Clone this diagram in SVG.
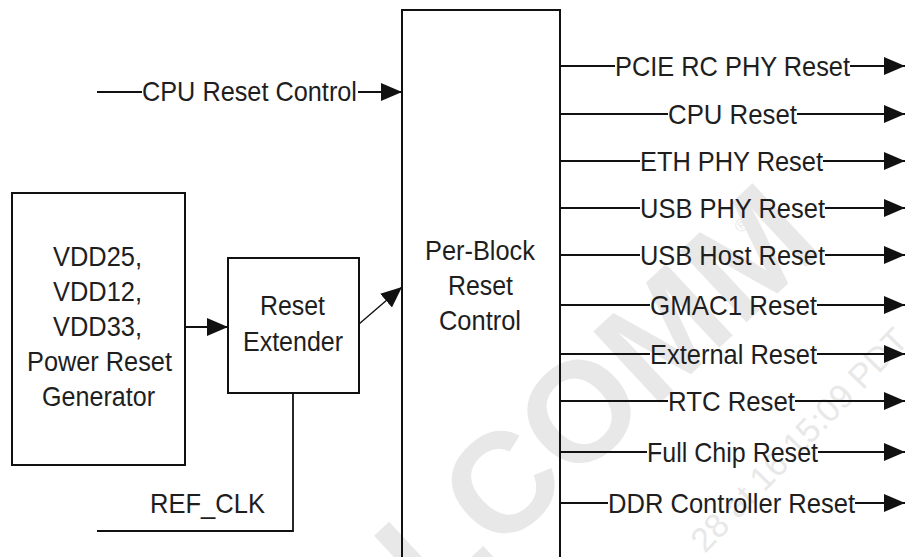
<svg xmlns="http://www.w3.org/2000/svg" width="920" height="557" viewBox="0 0 920 557">
<style>
.box{fill:none;stroke:#111;stroke-width:2}
.wire{fill:none;stroke:#111;stroke-width:1.8}
.arr{marker-end:url(#ah)}
.lbl{font-family:"Liberation Sans",Arial,sans-serif;font-size:27.5px;fill:#1e1e1e}
.wm{font-family:"Liberation Sans",Arial,sans-serif;fill:#e8e8e8}
</style>
<defs>
<marker id="ah" markerUnits="userSpaceOnUse" markerWidth="22" markerHeight="20" refX="21" refY="10" orient="auto">
<path d="M0,1 L21,10 L0,19 Z" fill="#111"/>
</marker>
</defs>
<rect width="920" height="557" fill="#fff"/>
<g id="watermark">
<text class="wm" font-weight="bold" font-size="142" transform="translate(203,829) rotate(-43)">QUALCOMM</text>
<text class="wm" font-size="18" transform="translate(741,234) rotate(-43)">®</text>
<text class="wm" font-size="34" transform="translate(705,554) rotate(-46)">28 at 16:15:09 PDT</text>
</g>
<g id="power-reset-generator">
<rect class="box" x="12" y="193" width="173" height="272"/>
<text class="lbl" x="53" y="266" textLength="89" lengthAdjust="spacingAndGlyphs">VDD25,</text>
<text class="lbl" x="53" y="301" textLength="89" lengthAdjust="spacingAndGlyphs">VDD12,</text>
<text class="lbl" x="53" y="336" textLength="89" lengthAdjust="spacingAndGlyphs">VDD33,</text>
<text class="lbl" x="27" y="371" textLength="145" lengthAdjust="spacingAndGlyphs">Power Reset</text>
<text class="lbl" x="42" y="406" textLength="113" lengthAdjust="spacingAndGlyphs">Generator</text>
</g>
<g id="reset-extender">
<rect class="box" x="228" y="258" width="131" height="135"/>
<text class="lbl" x="260" y="315" textLength="65" lengthAdjust="spacingAndGlyphs">Reset</text>
<text class="lbl" x="243" y="351" textLength="100" lengthAdjust="spacingAndGlyphs">Extender</text>
</g>
<g id="per-block-reset-control">
<rect class="box" x="402" y="10" width="158" height="570"/>
<text class="lbl" x="425" y="260" textLength="110" lengthAdjust="spacingAndGlyphs">Per-Block</text>
<text class="lbl" x="448" y="295" textLength="65" lengthAdjust="spacingAndGlyphs">Reset</text>
<text class="lbl" x="439" y="330" textLength="82" lengthAdjust="spacingAndGlyphs">Control</text>
</g>
<g id="connectors">
<line class="wire" x1="97" y1="92" x2="142" y2="92"/>
<line class="wire arr" x1="358" y1="92" x2="402" y2="92"/>
<line class="wire arr" x1="185" y1="327" x2="228" y2="327"/>
<line class="wire arr" style="stroke-width:1.4" x1="359" y1="324" x2="402" y2="287"/>
<polyline class="wire" points="97,531 293,531 293,393"/>
<line class="wire" x1="560" y1="66" x2="615" y2="66"/><line class="wire arr" x1="850" y1="66" x2="905" y2="66"/>
<line class="wire" x1="560" y1="114" x2="668" y2="114"/><line class="wire arr" x1="797" y1="114" x2="905" y2="114"/>
<line class="wire" x1="560" y1="161" x2="640" y2="161"/><line class="wire arr" x1="823" y1="161" x2="905" y2="161"/>
<line class="wire" x1="560" y1="208" x2="640" y2="208"/><line class="wire arr" x1="825" y1="208" x2="905" y2="208"/>
<line class="wire" x1="560" y1="255" x2="640" y2="255"/><line class="wire arr" x1="825" y1="255" x2="905" y2="255"/>
<line class="wire" x1="560" y1="305" x2="650" y2="305"/><line class="wire arr" x1="817" y1="305" x2="905" y2="305"/>
<line class="wire" x1="560" y1="354" x2="650" y2="354"/><line class="wire arr" x1="817" y1="354" x2="905" y2="354"/>
<line class="wire" x1="560" y1="401" x2="668" y2="401"/><line class="wire arr" x1="795" y1="401" x2="905" y2="401"/>
<line class="wire" x1="560" y1="452" x2="647" y2="452"/><line class="wire arr" x1="818" y1="452" x2="905" y2="452"/>
<line class="wire" x1="560" y1="503" x2="608" y2="503"/><line class="wire arr" x1="855" y1="503" x2="905" y2="503"/>
</g>
<g id="labels">
<text class="lbl" x="142" y="101" textLength="215" lengthAdjust="spacingAndGlyphs">CPU Reset Control</text>
<text class="lbl" x="150" y="513" textLength="115" lengthAdjust="spacingAndGlyphs">REF_CLK</text>
<text class="lbl" x="615" y="76" textLength="235" lengthAdjust="spacingAndGlyphs">PCIE RC PHY Reset</text>
<text class="lbl" x="668" y="124" textLength="129" lengthAdjust="spacingAndGlyphs">CPU Reset</text>
<text class="lbl" x="640" y="171" textLength="183" lengthAdjust="spacingAndGlyphs">ETH PHY Reset</text>
<text class="lbl" x="640" y="218" textLength="185" lengthAdjust="spacingAndGlyphs">USB PHY Reset</text>
<text class="lbl" x="640" y="265" textLength="185" lengthAdjust="spacingAndGlyphs">USB Host Reset</text>
<text class="lbl" x="650" y="315" textLength="167" lengthAdjust="spacingAndGlyphs">GMAC1 Reset</text>
<text class="lbl" x="650" y="364" textLength="167" lengthAdjust="spacingAndGlyphs">External Reset</text>
<text class="lbl" x="668" y="411" textLength="127" lengthAdjust="spacingAndGlyphs">RTC Reset</text>
<text class="lbl" x="647" y="462" textLength="171" lengthAdjust="spacingAndGlyphs">Full Chip Reset</text>
<text class="lbl" x="608" y="513" textLength="247" lengthAdjust="spacingAndGlyphs">DDR Controller Reset</text>
</g>
</svg>
